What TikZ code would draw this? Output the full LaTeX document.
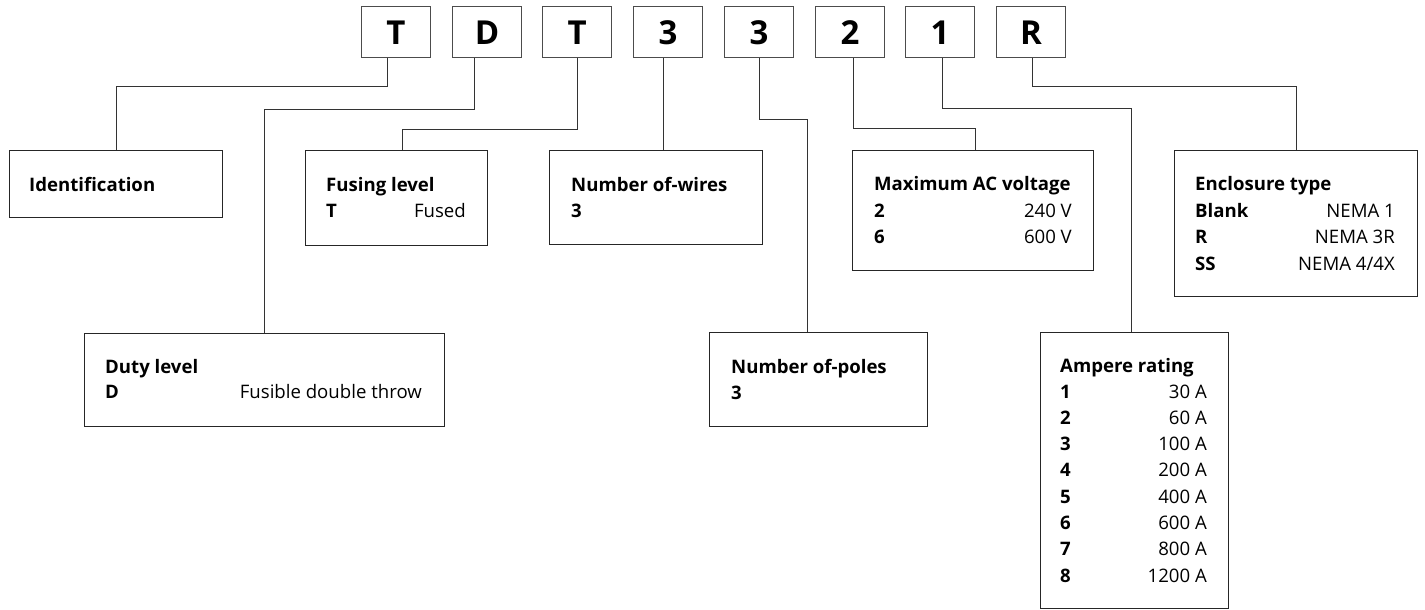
\documentclass[tikz,border=0pt]{standalone}
\usepackage{fontspec}
\setmainfont{Open Sans}
\usetikzlibrary{calc}
\begin{document}
\begin{tikzpicture}[x=1pt,y=-1pt,
  box/.style={draw=black!85, line width=1.4pt, inner sep=0pt, anchor=north west},
  letter/.style={draw=black!70, line width=1.1pt, minimum width=69pt, minimum height=51pt, anchor=north west, inner sep=0pt, text height=24pt, text depth=0pt, font=\fontsize{33}{33}\selectfont\bfseries},
  conn/.style={draw=black!80, line width=1pt},
  head/.style={anchor=base west, inner sep=0pt, font=\fontsize{18.6}{18.6}\selectfont\bfseries},
  key/.style={anchor=base west, inner sep=0pt, font=\fontsize{18.6}{18.6}\selectfont\bfseries},
  val/.style={anchor=base east, inner sep=0pt, font=\fontsize{18.6}{18.6}\selectfont}]
\useasboundingbox[fill=white] (0,0) rectangle (1425,610);

% code letter boxes
\foreach \i/\x/\l in {1/361/T,2/452/D,3/542/T,4/633/3,5/724/3,6/815/2,7/905/1,8/996/R}
  \node[letter] (b\i) at (\x,6) {\l};

% description boxes
\node[box, minimum width=213pt, minimum height=67pt] (idbox) at (9,150) {};
\node[box, minimum width=182pt, minimum height=95pt] (fusing) at (305,150) {};
\node[box, minimum width=213pt, minimum height=94pt] (wires) at (549,150) {};
\node[box, minimum width=241pt, minimum height=120pt] (maxac) at (852,150) {};
\node[box, minimum width=243pt, minimum height=146pt] (encl) at (1174,150) {};
\node[box, minimum width=360pt, minimum height=93pt] (duty) at (84,333) {};
\node[box, minimum width=218pt, minimum height=94pt] (poles) at (709,332) {};
\node[box, minimum width=188pt, minimum height=276pt] (ampere) at (1040,332) {};

% connectors
\draw[conn] ([xshift=-8.5pt]b1.south) -- ++(0,28) -| (idbox.north);
\draw[conn] ([xshift=-12.5pt]b2.south) -- ++(0,51) -| (duty.north);
\draw[conn] (b3.south) -- ++(0,71) -| ([xshift=6pt]fusing.north);
\draw[conn] ([xshift=-4.5pt]b4.south) -- ([xshift=-4.5pt]b4.south |- wires.north);
\draw[conn] (b5.south) -- ++(0,61) -| ([xshift=-11pt]poles.north);
\draw[conn] ([xshift=3.5pt]b6.south) -- ++(0,70) -| ([xshift=2.5pt]maxac.north);
\draw[conn] ([xshift=2.5pt]b7.south) -- ++(0,50) -| ([xshift=-3pt]ampere.north);
\draw[conn] ([xshift=1.5pt]b8.south) -- ++(0,28) -| (encl.north);

% texts
\node[head] (tid) at (29,191) {Identification};

\node[head] (tfu) at (326,191) {Fusing level};
\node[key] (tfuk) at (326,217) {T};
\node[val] (tfuv) at (466,217) {Fused};

\node[head] (twi) at (571,191) {Number of-wires};
\node[key] (twik) at (571,217) {3};

\node[head] (tma) at (874,190) {Maximum AC voltage};
\node[key] (tmak1) at (874,217) {2};
\node[val] (tmav1) at (1072,217) {240 V};
\node[key] (tmak2) at (874,243) {6};
\node[val] (tmav2) at (1072,243) {600 V};

\node[head] (ten) at (1195,190) {Enclosure type};
\node[key] (tenk1) at (1195,217) {Blank};
\node[val] (tenv1) at (1395,217) {NEMA 1};
\node[key] (tenk2) at (1195,243) {R};
\node[val] (tenv2) at (1395,243) {NEMA 3R};
\node[key] (tenk3) at (1195,270) {SS};
\node[val] (tenv3) at (1395,270) {NEMA 4/4X};

\node[head] (tdu) at (105,373) {Duty level};
\node[key] (tduk) at (105,398) {D};
\node[val] (tduv) at (422,398) {Fusible double throw};

\node[head] (tpo) at (731,373) {Number of-poles};
\node[key] (tpok) at (731,399) {3};

\node[head] (tam) at (1060,372) {Ampere rating};
\foreach \k/\v [count=\n from 0] in {1/30 A,2/60 A,3/100 A,4/200 A,5/400 A,6/600 A,7/800 A,8/1200 A} {
  \node[key] (tamk\k) at (1060,398+26.3*\n) {\k};
  \node[val] (tamv\k) at (1207,398+26.3*\n) {\v};
}
\end{tikzpicture}
\end{document}
